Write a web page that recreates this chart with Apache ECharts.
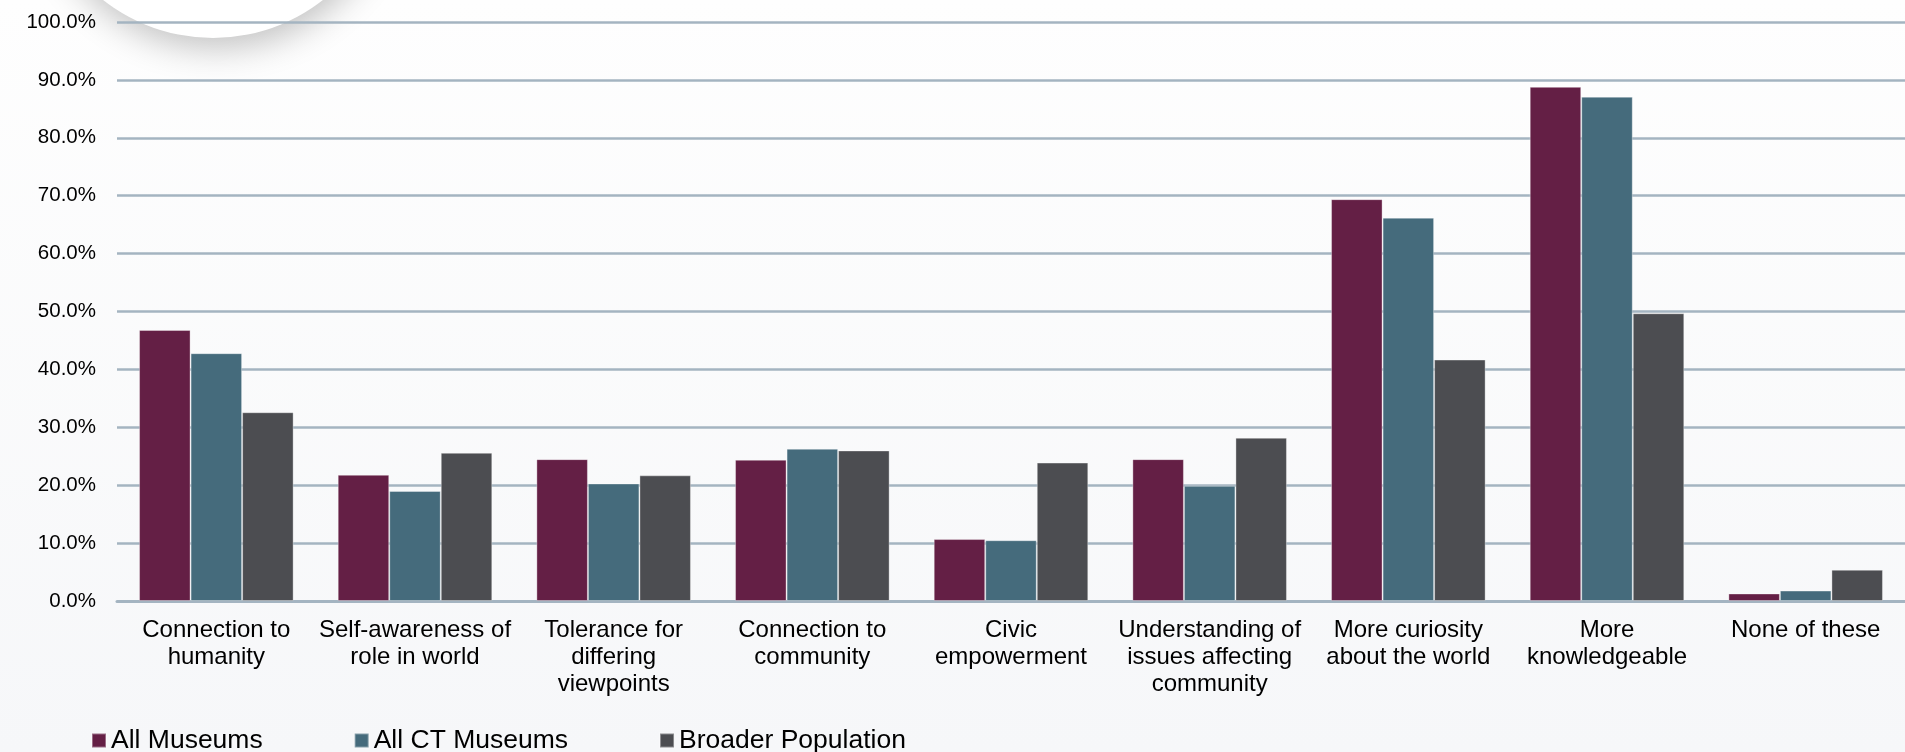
<!DOCTYPE html>
<html>
<head>
<meta charset="utf-8">
<style>
  html, body { margin: 0; padding: 0; }
  #chart { width: 1905px; height: 752px; }
</style>
<script src="https://cdn.jsdelivr.net/npm/echarts@6/dist/echarts.min.js"></script>
</head>
<body>
<div id="chart"></div>
<script>
// Outcome categories along the x axis
const categories = [
  'Connection to\nhumanity',
  'Self-awareness of\nrole in world',
  'Tolerance for\ndiffering\nviewpoints',
  'Connection to\ncommunity',
  'Civic\nempowerment',
  'Understanding of\nissues affecting\ncommunity',
  'More curiosity\nabout the world',
  'More\nknowledgeable',
  'None of these'
];

// Share of respondents (%) per group
const allMuseums        = [46.8, 21.8, 24.5, 24.4, 10.7, 24.5, 69.4, 88.8, 1.3];
const allCtMuseums      = [42.8, 19.0, 20.3, 26.3, 10.5, 19.9, 66.2, 87.1, 1.8];
const broaderPopulation = [32.6, 25.6, 21.7, 26.0, 23.9, 28.2, 41.7, 49.7, 5.4];

const seriesNames = ['All Museums', 'All CT Museums', 'Broader Population'];
const seriesColors = ['#641f45', '#456b7c', '#4c4d51'];

const chart = echarts.init(document.getElementById('chart'));

const font = '"Liberation Sans", Arial, Helvetica, sans-serif';

function barSeries(name, data, color) {
  return {
    name: name,
    type: 'bar',
    data: data,
    barGap: '0%',
    barCategoryGap: '22.2%',
    itemStyle: {
      color: color,
      borderColor: 'rgba(255,255,255,0.35)',
      borderWidth: 1
    },
    emphasis: { disabled: true }
  };
}

chart.setOption({
  animation: false,
  backgroundColor: {
    type: 'linear', x: 0, y: 0, x2: 0, y2: 1,
    colorStops: [
      { offset: 0, color: '#fefefe' },
      { offset: 1, color: '#f6f7f9' }
    ]
  },
  graphic: [{
    type: 'circle',
    z: -10,
    silent: true,
    shape: { cx: 213, cy: -140, r: 178 },
    style: {
      fill: '#ffffff',
      shadowBlur: 34,
      shadowOffsetX: 3,
      shadowOffsetY: 10,
      shadowColor: 'rgba(0,0,0,0.24)'
    }
  }],
  textStyle: { fontFamily: font },
  legend: {
    data: seriesNames,
    left: 91,
    top: 727,
    padding: 0,
    icon: 'rect',
    itemWidth: 14,
    itemHeight: 14,
    itemGap: 91,
    textStyle: { fontSize: 26.5, color: '#000', fontFamily: font }
  },
  grid: {
    left: 117,
    top: 22,
    width: 1791,
    height: 579,
    containLabel: false
  },
  xAxis: {
    type: 'category',
    data: categories,
    axisTick: { show: false },
    axisLine: { show: true, lineStyle: { color: '#a4b4c1', width: 3 } },
    axisLabel: {
      interval: 0,
      margin: 16,
      fontSize: 24,
      lineHeight: 27,
      color: '#000',
      fontFamily: font
    }
  },
  yAxis: {
    type: 'value',
    min: 0,
    max: 100,
    interval: 10,
    axisLine: { show: false },
    axisTick: { show: false },
    splitLine: { lineStyle: { color: '#a4b4c1', width: 2.5 } },
    axisLabel: {
      margin: 21,
      fontSize: 20.5,
      color: '#000',
      fontFamily: font,
      formatter: function (v) { return v.toFixed(1) + '%'; }
    }
  },
  series: [
    barSeries(seriesNames[0], allMuseums, seriesColors[0]),
    barSeries(seriesNames[1], allCtMuseums, seriesColors[1]),
    barSeries(seriesNames[2], broaderPopulation, seriesColors[2])
  ]
});
</script>
</body>
</html>
